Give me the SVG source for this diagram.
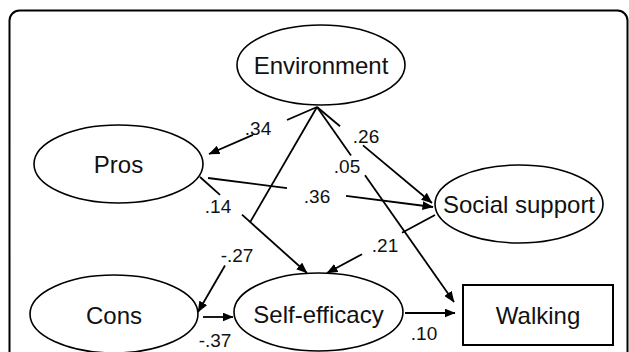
<svg xmlns="http://www.w3.org/2000/svg" width="629" height="352" viewBox="0 0 629 352">
<style>
.frame{fill:#fff;stroke:#000;stroke-width:2}
.node{fill:#fff;stroke:#000;stroke-width:1.6}
.box{fill:#fff;stroke:#000;stroke-width:2}
.nt{font-family:"Liberation Sans",Arial,sans-serif;font-size:24px;fill:#111;text-anchor:middle}
.lb{font-family:"Liberation Sans",Arial,sans-serif;font-size:19px;fill:#111;text-anchor:middle}
.c{fill:none;stroke:#000;stroke-width:1.8}
.a{marker-end:url(#ah)}
</style>
<defs>
<marker id="ah" markerUnits="userSpaceOnUse" markerWidth="11" markerHeight="9" refX="10.5" refY="4.5" orient="auto">
<path d="M0,0 L11,4.5 L0,9 z" fill="#000"/>
</marker>
</defs>
<rect class="frame" x="9.5" y="10.5" width="618" height="370" rx="10"/>
<g id="connectors">
<path class="c" d="M317,107 L287,120"/>
<path class="c a" d="M253,134.9 L209,154"/>
<path class="c" d="M317,107 L340,126.2"/>
<path class="c a" d="M363,145.4 L432,203"/>
<path class="c" d="M317,107 L351,155.4"/>
<path class="c a" d="M365,175.3 L454,302"/>
<path class="c" d="M317,107 L250,222.4"/>
<path class="c a" d="M225,265.5 L198,312"/>
<path class="c" d="M200,177 L220,194.9"/>
<path class="c a" d="M242,214.7 L307,273"/>
<path class="c" d="M208,178 L287,188.2"/>
<path class="c a" d="M346,195.8 L433,207"/>
<path class="c" d="M435,215 L402,232.7"/>
<path class="c a" d="M362,254.2 L327,273"/>
<path class="c a" d="M203,317 L233,317"/>
<path class="c a" d="M405,313 L455,313"/>
</g>
<g id="labels">
<text class="lb" x="258" y="135">.34</text>
<text class="lb" x="366" y="143">.26</text>
<text class="lb" x="347" y="173">.05</text>
<text class="lb" x="317" y="203">.36</text>
<text class="lb" x="218" y="213">.14</text>
<text class="lb" x="237" y="262">-.27</text>
<text class="lb" x="385" y="252">.21</text>
<text class="lb" x="215" y="347">-.37</text>
<text class="lb" x="424" y="340">.10</text>
</g>
<g id="environment"><ellipse class="node" cx="321" cy="65" rx="84" ry="40"/><text class="nt" x="321" y="74">Environment</text></g>
<g id="pros"><ellipse class="node" cx="118.5" cy="164" rx="84.5" ry="39"/><text class="nt" x="118.5" y="173">Pros</text></g>
<g id="social-support"><ellipse class="node" cx="519" cy="204" rx="84" ry="39"/><text class="nt" x="519" y="213">Social support</text></g>
<g id="cons"><ellipse class="node" cx="114" cy="314" rx="84" ry="39"/><text class="nt" x="114" y="324">Cons</text></g>
<g id="self-efficacy"><ellipse class="node" cx="318.5" cy="312" rx="84.5" ry="39"/><text class="nt" x="318.5" y="323">Self-efficacy</text></g>
<g id="walking"><rect class="box" x="463" y="285" width="150" height="60"/><text class="nt" x="538" y="324">Walking</text></g>
</svg>
